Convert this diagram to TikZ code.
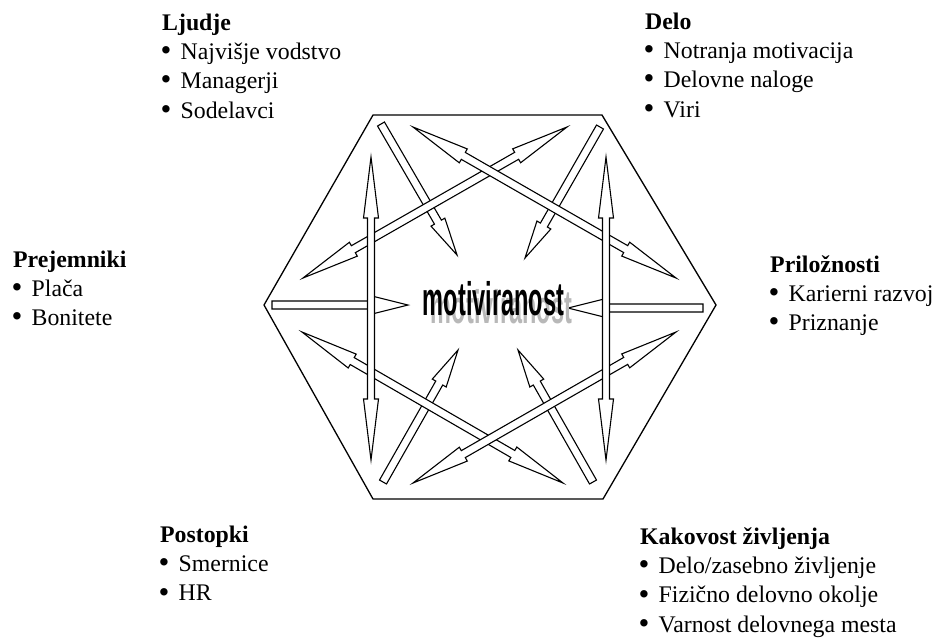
\documentclass[tikz,border=0pt]{standalone}
\usepackage{fontspec}
\setmainfont{Liberation Serif}
\newfontfamily\hubfont{Liberation Sans}
\usetikzlibrary{calc}

\tikzset{
  blockarrow/.style={draw=black, fill=white, line width=1.1pt, line join=miter},
  hexframe/.style={draw=black, line width=1.3pt, line join=miter},
  catlist/.style={anchor=base west, inner sep=0pt, font=\fontsize{23.8}{29.4}\selectfont},
  hubtext/.style={anchor=base, inner sep=0pt, font=\hubfont\bfseries\fontsize{47}{47}\selectfont},
}

% block arrow with a flat tail: #1 tail, #2 tip, #3 half shaft, #4 half head, #5 head length
\newcommand{\onewayarrow}[5]{%
  \coordinate (hb) at ($(#2)!#5!(#1)$);
  \filldraw[blockarrow] ($(#1)!#3!90:(#2)$) -- ($(hb)!#3!90:(#2)$) -- ($(hb)!#4!90:(#2)$)
    -- (#2) -- ($(hb)!#4!-90:(#2)$) -- ($(hb)!#3!-90:(#2)$) -- ($(#1)!#3!-90:(#2)$) -- cycle;
}
% block arrow with heads at both ends
\newcommand{\twowayarrow}[5]{%
  \coordinate (ha) at ($(#1)!#5!(#2)$);
  \coordinate (hb) at ($(#2)!#5!(#1)$);
  \filldraw[blockarrow] (#1) -- ($(ha)!#4!90:(#2)$) -- ($(ha)!#3!90:(#2)$)
    -- ($(hb)!#3!90:(#2)$) -- ($(hb)!#4!90:(#2)$) -- (#2)
    -- ($(hb)!#4!-90:(#2)$) -- ($(hb)!#3!-90:(#2)$)
    -- ($(ha)!#3!-90:(#2)$) -- ($(ha)!#4!-90:(#2)$) -- cycle;
}
% list bullet and heading with bullet list
\newcommand{\bul}{\hspace*{-1.5pt}\raisebox{-0.05em}{\scalebox{1.3}{\textbullet}}}
\newcommand{\catblock}[2]{\begin{tabular}[t]{@{}p{18.5pt}@{}l@{}}\multicolumn{2}{@{}l@{}}{\bfseries #1}\\#2\end{tabular}}

\begin{document}
\begin{tikzpicture}[x=1pt, y=-1pt]
\useasboundingbox (0,0) rectangle (933,641);

% hexagon frame
\coordinate (x1) at (373,115);
\coordinate (x2) at (602,115);
\coordinate (x3) at (716,305);
\coordinate (x4) at (603,499);
\coordinate (x5) at (373,499);
\coordinate (x6) at (264,305);
\draw[hexframe] (x1) -- (x2) -- (x3) -- (x4) -- (x5) -- (x6) -- cycle;

% arrow end points
\coordinate (hlt) at (272,305);  \coordinate (hlh) at (408,305);
\coordinate (hrt) at (703,308);  \coordinate (hrh) at (568,308);
\coordinate (s1t) at (381,124);  \coordinate (s1h) at (457,255);
\coordinate (s2t) at (600,127);  \coordinate (s2h) at (525,258);
\coordinate (s3t) at (383,482);  \coordinate (s3h) at (458,350);
\coordinate (s4t) at (593,482);  \coordinate (s4h) at (518,350);
\coordinate (d1a) at (303,278);  \coordinate (d1b) at (567,127);
\coordinate (d2a) at (413,127);  \coordinate (d2b) at (676,278);
\coordinate (d3a) at (302,332);  \coordinate (d3b) at (563,483);
\coordinate (d4a) at (413,483);  \coordinate (d4b) at (676,332);
\coordinate (vla) at (371,157);  \coordinate (vlb) at (371,460);
\coordinate (vra) at (606,157);  \coordinate (vrb) at (606,460);

% horizontal arrows towards the centre
\onewayarrow{hlt}{hlh}{4pt}{9pt}{36pt}
\onewayarrow{hrt}{hrh}{4pt}{9pt}{36pt}

% short arrows towards the centre
\onewayarrow{s1t}{s1h}{4pt}{8pt}{38pt}
\onewayarrow{s2t}{s2h}{4pt}{8pt}{38pt}
\onewayarrow{s3t}{s3h}{4pt}{8pt}{38pt}
\onewayarrow{s4t}{s4h}{4pt}{8pt}{38pt}

% long crossing double arrows
\twowayarrow{d1a}{d1b}{4pt}{8pt}{58pt}
\twowayarrow{d2a}{d2b}{4pt}{8pt}{58pt}
\twowayarrow{d3a}{d3b}{4pt}{8pt}{58pt}
\twowayarrow{d4a}{d4b}{4pt}{8pt}{58pt}

% vertical double arrows
\twowayarrow{vla}{vlb}{3.5pt}{7.5pt}{61pt}
\twowayarrow{vra}{vrb}{3.5pt}{7.5pt}{61pt}

% central word with its shadow
\node[hubtext, text=black!28] (hubshadow) at (501.5,323) {\scalebox{0.5}[1]{motiviranost}};
\node[hubtext] (hub) at (493.5,315) {\scalebox{0.5}[1]{motiviranost}};

% categories
\node[catlist] (ljudje) at (162,30) {\catblock{Ljudje}{\bul & Najvišje vodstvo\\ \bul & Managerji\\ \bul & Sodelavci}};
\node[catlist] (delo) at (645,29) {\catblock{Delo}{\bul & Notranja motivacija\\ \bul & Delovne naloge\\ \bul & Viri}};
\node[catlist] (prejemniki) at (13,267) {\catblock{Prejemniki}{\bul & Plača\\ \bul & Bonitete}};
\node[catlist] (priloznosti) at (770,272) {\catblock{Priložnosti}{\bul & Karierni razvoj\\ \bul & Priznanje}};
\node[catlist] (postopki) at (160,542) {\catblock{Postopki}{\bul & Smernice\\ \bul & HR}};
\node[catlist] (kakovost) at (640,544) {\catblock{Kakovost življenja}{\bul & Delo/zasebno življenje\\ \bul & Fizično delovno okolje\\ \bul & Varnost delovnega mesta}};
\end{tikzpicture}
\end{document}
